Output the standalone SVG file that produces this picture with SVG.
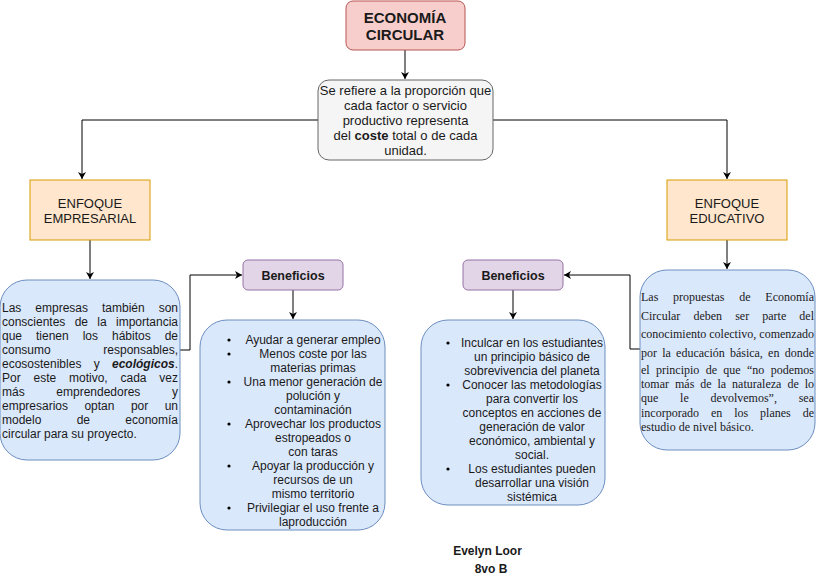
<svg xmlns="http://www.w3.org/2000/svg" width="816" height="579" viewBox="0 0 816 579">
<style>
.t{font-family:"Liberation Sans",Arial,sans-serif;font-size:12px;fill:#1a1a1a}
.c{text-anchor:middle}
.e{text-anchor:end}
.b{font-weight:bold}
.s{font-family:"Liberation Serif","Times New Roman",serif;font-size:12px;fill:#1a1a1a}
.ln{fill:none;stroke:#000;stroke-width:1}
.blue{fill:#dae8fc;stroke:#6c8ebf;stroke-width:1}
.org{fill:#ffe6cc;stroke:#d79b00;stroke-width:1}
.pur{fill:#e1d5e7;stroke:#9673a6;stroke-width:1}
</style>
<defs>
<marker id="arr" markerWidth="8" markerHeight="8" refX="7" refY="4" orient="auto" markerUnits="userSpaceOnUse">
<path d="M0,0 L7,4 L0,8 L2,4 Z" fill="#000"/>
</marker>
</defs>
<rect width="816" height="579" fill="#fff"/>
<g id="connectors">
<path class="ln" d="M405,50 V79" marker-end="url(#arr)"/>
<path class="ln" d="M318,120 H82 V179" marker-end="url(#arr)"/>
<path class="ln" d="M493,120 H727 V179" marker-end="url(#arr)"/>
<path class="ln" d="M90,240 V279" marker-end="url(#arr)"/>
<path class="ln" d="M727,240 V269" marker-end="url(#arr)"/>
<path class="ln" d="M180,350 H190 V275 H242" marker-end="url(#arr)"/>
<path class="ln" d="M640,349 H630 V275 H564" marker-end="url(#arr)"/>
<path class="ln" d="M293,290 V319" marker-end="url(#arr)"/>
<path class="ln" d="M513,290 V319" marker-end="url(#arr)"/>
</g>
<g id="economia">
<rect x="346" y="1" width="119" height="49" rx="7" fill="#f8cecc" stroke="#b85450"/>
<text class="t c b" x="405" y="23" style="font-size:15px">ECONOMÍA</text>
<text class="t c b" x="405" y="40" style="font-size:15px">CIRCULAR</text>
</g>
<g id="definicion">
<rect x="318" y="80" width="175" height="80" rx="11" fill="#f5f5f5" stroke="#666666"/>
<g class="t c" style="font-size:13px">
<text x="405.5" y="94.5">Se refiere a la proporción que</text>
<text x="405.5" y="109.5">cada factor o servicio</text>
<text x="405.5" y="124.5">productivo representa</text>
<text x="405.5" y="140">del <tspan class="b">coste</tspan> total o de cada</text>
<text x="405.5" y="155">unidad.</text>
</g>
</g>
<g id="enfoque-empresarial">
<rect class="org" x="30" y="180" width="120" height="60"/>
<text class="t c" x="90" y="208" style="font-size:13px">ENFOQUE</text>
<text class="t c" x="90" y="223" style="font-size:13px">EMPRESARIAL</text>
</g>
<g id="enfoque-educativo">
<rect class="org" x="667" y="180" width="120" height="60"/>
<text class="t c" x="727" y="208" style="font-size:13px">ENFOQUE</text>
<text class="t c" x="727" y="223" style="font-size:13px">EDUCATIVO</text>
</g>
<g id="empresas-texto">
<rect class="blue" x="0" y="280" width="180" height="180" rx="27"/>
<g class="t">
<text x="2" y="312">Las</text><text x="35.3" y="312">empresas</text><text x="102" y="312">también</text><text class="e" x="178" y="312">son</text>
<text x="2" y="326">conscientes</text><text x="74.7" y="326">de</text><text x="97.3" y="326">la</text><text class="e" x="178" y="326">importancia</text>
<text x="2" y="340">que</text><text x="36" y="340">tienen</text><text x="82.7" y="340">los</text><text x="112" y="340">hábitos</text><text class="e" x="178" y="340">de</text>
<text x="2" y="354">consumo</text><text class="e" x="178" y="354">responsables,</text>
<text x="2" y="368">ecosostenibles</text><text x="93.7" y="368">y</text><text class="e" x="178" y="368"><tspan class="b" font-style="italic">ecológicos</tspan>.</text>
<text x="2" y="382">Por</text><text x="33.5" y="382">este</text><text x="69" y="382">motivo,</text><text x="120.5" y="382">cada</text><text class="e" x="178" y="382">vez</text>
<text x="2" y="396">más</text><text x="56.3" y="396">emprendedores</text><text class="e" x="178" y="396">y</text>
<text x="2" y="410">empresarios</text><text x="84.4" y="410">optan</text><text x="130.9" y="410">por</text><text class="e" x="178" y="410">un</text>
<text x="2" y="424">modelo</text><text x="76.7" y="424">de</text><text class="e" x="178" y="424">economía</text>
<text x="2" y="438">circular para su proyecto.</text>
</g>
</g>
<g id="beneficios-1">
<rect class="pur" x="243" y="260" width="100" height="30" rx="5"/>
<text class="t c b" x="293" y="279.5" style="font-size:12.5px">Beneficios</text>
</g>
<g id="beneficios-2">
<rect class="pur" x="463" y="260" width="100" height="30" rx="5"/>
<text class="t c b" x="513" y="279.5" style="font-size:12.5px">Beneficios</text>
</g>
<g id="lista-empresarial">
<rect class="blue" x="200" y="320" width="185" height="210" rx="27"/>
<g class="t c">
<text x="313" y="344">Ayudar a generar empleo</text>
<text x="313" y="358">Menos coste por las</text>
<text x="313" y="372">materias primas</text>
<text x="313" y="386">Una menor generación de</text>
<text x="313" y="400">polución y</text>
<text x="313" y="414">contaminación</text>
<text x="313" y="428">Aprovechar los productos</text>
<text x="313" y="442">estropeados o</text>
<text x="313" y="456">con taras</text>
<text x="313" y="470">Apoyar la producción y</text>
<text x="313" y="484">recursos de un</text>
<text x="313" y="498">mismo territorio</text>
<text x="313" y="512">Privilegiar el uso frente a</text>
<text x="313" y="526">laproducción</text>
</g>
<g fill="#000">
<circle cx="229" cy="340" r="1.6"/><circle cx="229" cy="354" r="1.6"/><circle cx="229" cy="382" r="1.6"/>
<circle cx="229" cy="424" r="1.6"/><circle cx="229" cy="466" r="1.6"/><circle cx="229" cy="508" r="1.6"/>
</g>
</g>
<g id="lista-educativa">
<rect class="blue" x="421" y="320" width="184" height="185" rx="27"/>
<g class="t c">
<text x="532" y="347">Inculcar en los estudiantes</text>
<text x="532" y="361">un principio básico de</text>
<text x="532" y="375">sobrevivencia del planeta</text>
<text x="532" y="389">Conocer las metodologías</text>
<text x="532" y="403">para convertir los</text>
<text x="532" y="417">conceptos en acciones de</text>
<text x="532" y="431">generación de valor</text>
<text x="532" y="445">económico, ambiental y</text>
<text x="532" y="459">social.</text>
<text x="532" y="473">Los estudiantes pueden</text>
<text x="532" y="487">desarrollar una visión</text>
<text x="532" y="501">sistémica</text>
</g>
<g fill="#000">
<circle cx="448" cy="343" r="1.6"/><circle cx="448" cy="385" r="1.6"/><circle cx="448" cy="469" r="1.6"/>
</g>
</g>
<g id="educativo-texto">
<rect class="blue" x="640" y="270" width="175" height="180" rx="27"/>
<g class="s">
<text x="641" y="301">Las</text><text x="673.1" y="301">propuestas</text><text x="739.2" y="301">de</text><text class="e" x="814" y="301">Economía</text>
<text x="641" y="320">Circular</text><text x="693.4" y="320">deben</text><text x="735.2" y="320">ser</text><text x="762.3" y="320">parte</text><text class="e" x="814" y="320">del</text>
<text x="641" y="338">conocimiento</text><text x="709.3" y="338">colectivo,</text><text class="e" x="814" y="338">comenzado</text>
<text x="641" y="357">por</text><text x="662.2" y="357">la</text><text x="676.1" y="357">educación</text><text x="729.9" y="357">básica,</text><text x="768.1" y="357">en</text><text class="e" x="814" y="357">donde</text>
<text x="641" y="374">el</text><text x="656" y="374">principio</text><text x="705.7" y="374">de</text><text x="723.3" y="374">que</text><text x="747" y="374">“no</text><text class="e" x="814" y="374">podemos</text>
<text x="641" y="388">tomar</text><text x="675" y="388">más</text><text x="700.2" y="388">de</text><text x="717.5" y="388">la</text><text x="732.1" y="388">naturaleza</text><text x="787.4" y="388">de</text><text class="e" x="814" y="388">lo</text>
<text x="641" y="402">que</text><text x="680.1" y="402">le</text><text x="710.6" y="402">devolvemos”,</text><text class="e" x="814" y="402">sea</text>
<text x="641" y="417">incorporado</text><text x="710.9" y="417">en</text><text x="734.2" y="417">los</text><text x="760.1" y="417">planes</text><text class="e" x="814" y="417">de</text>
<text x="641" y="431">estudio de nivel básico.</text>
</g>
</g>
<g id="autor">
<text class="t c b" x="487.5" y="555">Evelyn Loor</text>
<text class="t c b" x="491" y="573">8vo B</text>
</g>
</svg>
